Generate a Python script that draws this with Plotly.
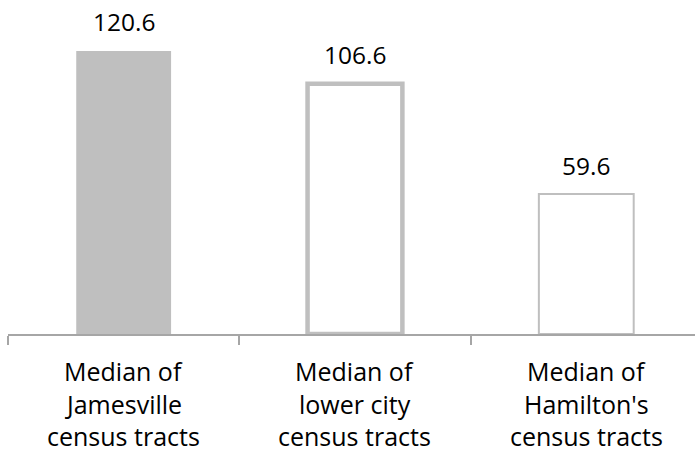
import plotly.graph_objects as go

categories = ["Jamesville", "lower city", "Hamilton's"]
values = [120.6, 106.6, 59.6]
value_labels = ["120.6", "106.6", "59.6"]
category_lines = [
    ["Median of", "Jamesville", "census tracts"],
    ["Median of", "lower city", "census tracts"],
    ["Median of", "Hamilton's", "census tracts"],
]

fill_colors = ["#bfbfbf", "#ffffff", "#ffffff"]
line_widths = [0, 4.5, 2]

fig = go.Figure()
fig.add_trace(go.Bar(
    x=categories, y=values, width=0.41,
    marker=dict(color=fill_colors, line=dict(color="#bfbfbf", width=line_widths)),
    hoverinfo="skip",
))

annotations = []
for c, v, t in zip(categories, values, value_labels):
    annotations.append(dict(x=c, y=v, xref="x", yref="y", text=t, showarrow=False,
                            yanchor="middle", yshift=29,
                            font=dict(family="Open Sans", size=24.5, color="#000000")))
shifts = [-37, -70, -102]
for c, lines in zip(categories, category_lines):
    for s, ln in zip(shifts, lines):
        annotations.append(dict(x=c, y=0, xref="x", yref="paper", text=ln, showarrow=False,
                                yanchor="middle", yshift=s, borderpad=0,
                                font=dict(family="Open Sans", size=25, color="#000000")))

fig.update_layout(
    width=695, height=454,
    margin=dict(l=8, r=0, t=8, b=120),
    plot_bgcolor="white", paper_bgcolor="white",
    showlegend=False,
    annotations=annotations,
    xaxis=dict(type="category", range=[-0.5, 2.47], showticklabels=False,
               tickson="boundaries", ticks="outside", ticklen=9, tickwidth=1.5,
               tickcolor="#a6a6a6", showline=True, linecolor="#a6a6a6", linewidth=1.5,
               showgrid=False, zeroline=False),
    yaxis=dict(range=[0, 138.9], visible=False, showgrid=False, zeroline=False),
)

fig.write_html("out.html", config={"displayModeBar": False},
               post_script="document.body.style.margin='0';document.body.style.overflow='hidden';")
